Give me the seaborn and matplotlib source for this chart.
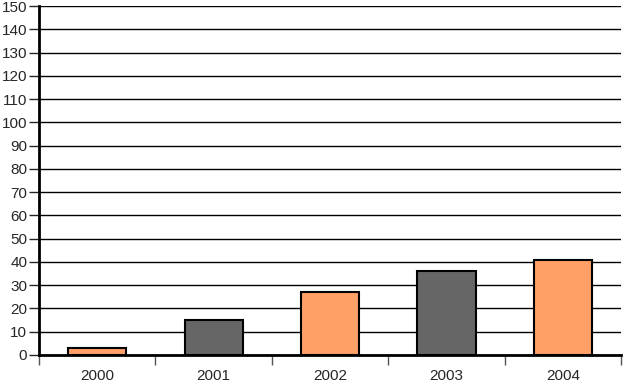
import matplotlib
matplotlib.use("Agg")
import matplotlib.pyplot as plt
import seaborn as sns
import pandas as pd

years = ["2000", "2001", "2002", "2003", "2004"]
values = [3, 15, 27, 36, 41]
colors = ["#FFA066", "#666666", "#FFA066", "#666666", "#FFA066"]

sns.set_style("white")
plt.rcParams["font.family"] = ["Liberation Sans", "DejaVu Sans"]

df = pd.DataFrame({"year": years, "value": values})

fig = plt.figure(figsize=(6.23, 3.83), dpi=100)
ax = fig.add_axes([39 / 623, 28 / 383, 582 / 623, 349 / 383])

sns.barplot(data=df, x="year", y="value", hue="year", palette=colors,
            width=0.5, edgecolor="black", linewidth=1.5, legend=False,
            saturation=1, ax=ax, zorder=3)

ax.set_ylim(0, 150)
ax.set_xlim(-0.5, 4.5)
ax.set_yticks(range(0, 151, 10))
ax.yaxis.grid(True, color="black", linewidth=1)
ax.set_axisbelow(True)
ax.set_xlabel("")
ax.set_ylabel("")

for side in ["left", "bottom"]:
    ax.spines[side].set_linewidth(2)
    ax.spines[side].set_color("black")
for side in ["top", "right"]:
    ax.spines[side].set_visible(False)

# y ticks: outward marks
ax.tick_params(axis="y", direction="out", length=7.5, width=1, labelsize=11, pad=1, left=True)
# x ticks: boundaries between categories
ax.set_xticks([-0.5, 0.5, 1.5, 2.5, 3.5, 4.5], minor=True)
ax.tick_params(axis="x", which="minor", direction="out", length=7.5, width=1, color="#555555", bottom=True)
ax.tick_params(axis="x", which="major", length=0, labelsize=11, pad=10)

plt.savefig("out.png", dpi=100)
